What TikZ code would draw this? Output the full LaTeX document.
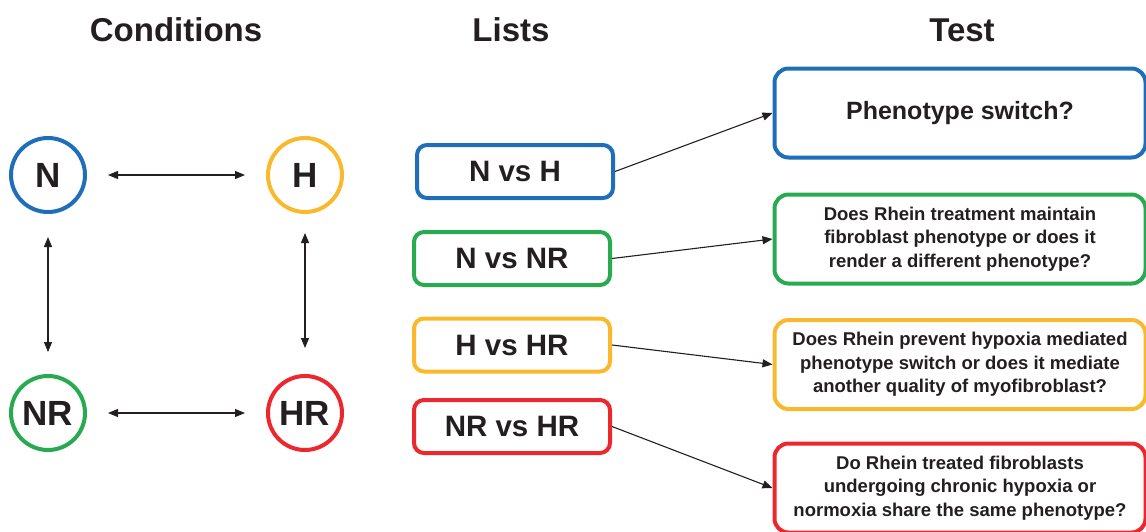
\documentclass[tikz,border=0pt]{standalone}
\usepackage{fontspec}
\setmainfont{Liberation Sans}
\usepackage{tikz}
\usetikzlibrary{arrows.meta}
\definecolor{ink}{RGB}{35, 31, 32}
\definecolor{normblue}{RGB}{30, 110, 185}
\definecolor{hypoyellow}{RGB}{250, 185, 45}
\definecolor{rheingreen}{RGB}{40, 170, 80}
\definecolor{hrred}{RGB}{235, 40, 45}

\begin{document}
\begin{tikzpicture}[
    x=1pt, y=-1pt,
    hdr/.style={font=\fontsize{33}{40}\selectfont\bfseries, text=ink},
    cond/.style={
      circle, line width=4pt, minimum size=74pt, inner sep=0pt,
      font=\fontsize{35}{40}\selectfont\bfseries, text=ink
    },
    lst/.style={
      rectangle, rounded corners=10pt, line width=4pt,
      minimum width=196pt, minimum height=53pt,
      font=\fontsize{29.5}{34}\selectfont\bfseries, text=ink
    },
    tst/.style={
      rectangle, rounded corners=14pt, line width=4pt,
      minimum width=371pt, minimum height=89pt, align=center,
      font=\fontsize{18.5}{23.5}\selectfont\bfseries, text=ink
    },
    arr/.style={-{Triangle[length=10pt, width=8pt]}, line width=1.1pt, color=ink},
    dbl/.style={{Triangle[length=10pt, width=8pt]}-{Triangle[length=10pt, width=8pt]},
      line width=1.1pt, color=ink, shorten <=21pt, shorten >=21pt}
  ]
  \useasboundingbox (0,0) rectangle (1146,531);

  % ── Column headers ─────────────────────────────────────────────
  \node[hdr] (hcond) at (176,30) {Conditions};
  \node[hdr] (hlist) at (511,30) {Lists};
  \node[hdr] (htest) at (962,30) {Test};

  % ── Conditions: four culture states ────────────────────────────
  \node[cond, draw=normblue]   (n)  at (48, 175) {N};
  \node[cond, draw=hypoyellow] (h)  at (305,175) {H};
  \node[cond, draw=rheingreen] (nr) at (48, 413) {NR};
  \node[cond, draw=hrred]      (hr) at (305,413) {HR};

  \draw[dbl] (n)  -- (h);
  \draw[dbl] (nr) -- (hr);
  \draw[dbl, shorten <=23pt, shorten >=22pt] (n) -- (nr);
  \draw[dbl, shorten <=19pt, shorten >=26pt] (h) -- (hr);

  % ── Lists: pairwise comparisons ────────────────────────────────
  \node[lst, draw=normblue]   (nvh)   at (515,171.5) {N vs H};
  \node[lst, draw=rheingreen] (nvnr)  at (512,258.5) {N vs NR};
  \node[lst, draw=hypoyellow] (hvhr)  at (512,345)   {H vs HR};
  \node[lst, draw=hrred]      (nrvhr) at (512,426.5) {NR vs HR};

  % ── Test: questions per comparison ─────────────────────────────
  \node[tst, draw=normblue, font=\fontsize{25}{30}\selectfont\bfseries]
    (qswitch) at (960,113) {Phenotype switch?};
  \node[tst, draw=rheingreen] (qmaintain) at (960,239)
    {Does Rhein treatment maintain\\fibroblast phenotype or does it\\render a different phenotype?};
  \node[tst, draw=hypoyellow] (qprevent) at (960,364.5)
    {Does Rhein prevent hypoxia mediated\\phenotype switch or does it mediate\\another quality of myofibroblast?};
  \node[tst, draw=hrred] (qshare) at (960,488)
    {Do Rhein treated fibroblasts\\undergoing chronic hypoxia or\\normoxia share the same phenotype?};

  \draw[arr] (nvh.east)   -- (qswitch.west);
  \draw[arr] (nvnr.east)  -- (qmaintain.west);
  \draw[arr] (hvhr.east)  -- (qprevent.west);
  \draw[arr] (nrvhr.east) -- (qshare.west);

\end{tikzpicture}
\end{document}
